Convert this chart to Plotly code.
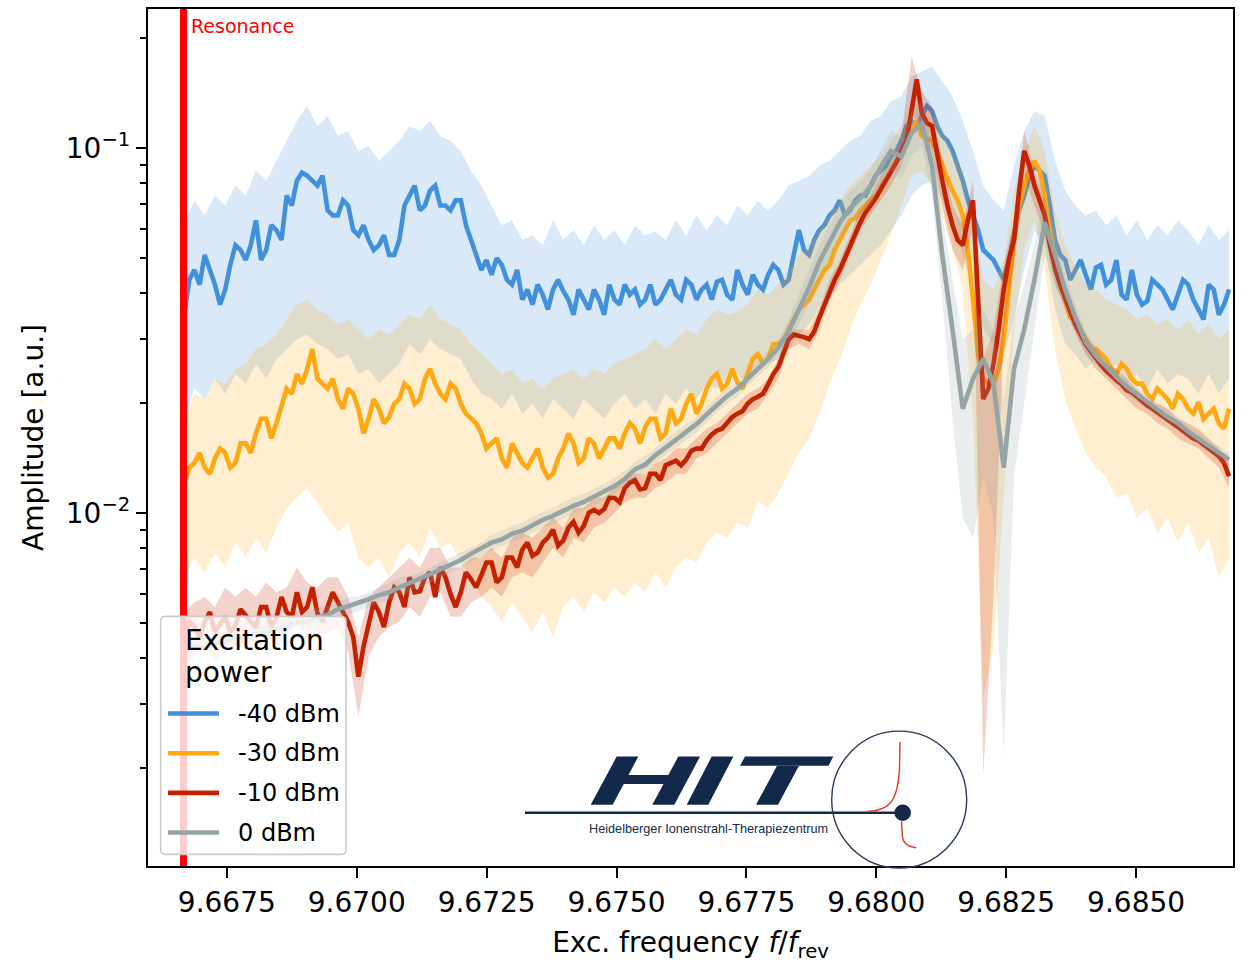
import numpy as np
import plotly.graph_objects as go

# ---------------- data ----------------
# excitation frequency grids (tune units f/f_rev)
freq = np.linspace(9.66668, 9.68679, 103)        # bands and 0 dBm trace
freq_fine = np.linspace(9.66668, 9.68679, 205)   # noisy low-power traces
RESONANCE = 29 / 3

POWER_LABELS = ["-40 dBm", "-30 dBm", "-10 dBm", "0 dBm"]

amp_m40 = [
    0.0349, 0.0435, 0.0463, 0.0422, 0.0509, 0.0463, 0.0422, 0.0372, 0.0409, 0.0478,
    0.0541, 0.0525, 0.0493, 0.0541, 0.0633, 0.0493, 0.0525, 0.0614, 0.0595, 0.0559,
    0.0740, 0.0695, 0.0813, 0.0855, 0.0839, 0.0813, 0.0788, 0.0839, 0.0674, 0.0653,
    0.0653, 0.0718, 0.0695, 0.0595, 0.0576, 0.0614, 0.0559, 0.0525, 0.0541, 0.0576,
    0.0509, 0.0509, 0.0559, 0.0695, 0.0740, 0.0788, 0.0674, 0.0695, 0.0764, 0.0788,
    0.0695, 0.0695, 0.0674, 0.0718, 0.0718, 0.0614, 0.0559, 0.0509, 0.0463, 0.0493,
    0.0449, 0.0499, 0.0478, 0.0435, 0.0422, 0.0463, 0.0384, 0.0409, 0.0372, 0.0422,
    0.0396, 0.0361, 0.0409, 0.0435, 0.0405, 0.0384, 0.0349, 0.0409, 0.0384, 0.0361,
    0.0409, 0.0384, 0.0349, 0.0422, 0.0384, 0.0372, 0.0422, 0.0396, 0.0409, 0.0372,
    0.0384, 0.0422, 0.0372, 0.0384, 0.0409, 0.0435, 0.0396, 0.0384, 0.0435, 0.0422,
    0.0384, 0.0409, 0.0422, 0.0384, 0.0430, 0.0435, 0.0396, 0.0384, 0.0463, 0.0422,
    0.0396, 0.0449, 0.0422, 0.0409, 0.0449, 0.0478, 0.0463, 0.0422, 0.0435, 0.0509,
    0.0595, 0.0525, 0.0509, 0.0559, 0.0595, 0.0614, 0.0653, 0.0674, 0.0718, 0.0653,
    0.0674, 0.0718, 0.0740, 0.0740, 0.0788, 0.0839, 0.0866, 0.0893, 0.0951, 0.0981,
    0.1045, 0.1148, 0.1184, 0.1126, 0.1222, 0.1301, 0.1261, 0.1148, 0.1078, 0.1045,
    0.0981, 0.0893, 0.0813, 0.0718, 0.0653, 0.0595, 0.0525, 0.0509, 0.0493, 0.0463,
    0.0435, 0.0493, 0.0576, 0.0674, 0.0740, 0.0839, 0.0893, 0.0866, 0.0839, 0.0695,
    0.0559, 0.0509, 0.0493, 0.0435, 0.0463, 0.0493, 0.0449, 0.0409, 0.0470, 0.0478,
    0.0422, 0.0435, 0.0493, 0.0396, 0.0384, 0.0463, 0.0396, 0.0372, 0.0380, 0.0435,
    0.0422, 0.0409, 0.0384, 0.0361, 0.0396, 0.0435, 0.0422, 0.0384, 0.0361, 0.0339,
    0.0422, 0.0409, 0.0349, 0.0372, 0.0409]
amp_m40_hi = [
    0.0614, 0.0718, 0.0653, 0.0740, 0.0695, 0.0788, 0.0740, 0.0866, 0.0813, 0.0922,
    0.1045, 0.1184, 0.1301, 0.1148, 0.1222, 0.1078, 0.1112, 0.0981, 0.1013, 0.0922,
    0.0981, 0.1045, 0.1148, 0.1112, 0.1184, 0.1078, 0.1045, 0.0981, 0.0866, 0.0788,
    0.0695, 0.0614, 0.0633, 0.0559, 0.0576, 0.0541, 0.0633, 0.0559, 0.0595, 0.0541,
    0.0614, 0.0559, 0.0595, 0.0541, 0.0614, 0.0576, 0.0590, 0.0559, 0.0633, 0.0576,
    0.0653, 0.0595, 0.0653, 0.0614, 0.0695, 0.0653, 0.0718, 0.0674, 0.0718, 0.0788,
    0.0813, 0.0839, 0.0893, 0.0922, 0.0981, 0.1045, 0.1078, 0.1184, 0.1222, 0.1342,
    0.1385, 0.1569, 0.1619, 0.1670, 0.1521, 0.1385, 0.1184, 0.0981, 0.0788, 0.0718,
    0.0674, 0.0893, 0.1112, 0.1261, 0.1222, 0.0922, 0.0764, 0.0695, 0.0653, 0.0674,
    0.0614, 0.0653, 0.0576, 0.0633, 0.0559, 0.0614, 0.0576, 0.0633, 0.0595, 0.0541,
    0.0614, 0.0559, 0.0595]
amp_m40_lo = [
    0.0181, 0.0219, 0.0205, 0.0233, 0.0212, 0.0240, 0.0226, 0.0256, 0.0233, 0.0264,
    0.0281, 0.0299, 0.0308, 0.0290, 0.0281, 0.0264, 0.0272, 0.0240, 0.0248, 0.0226,
    0.0240, 0.0256, 0.0290, 0.0272, 0.0299, 0.0281, 0.0272, 0.0264, 0.0233, 0.0212,
    0.0205, 0.0193, 0.0212, 0.0187, 0.0199, 0.0181, 0.0205, 0.0193, 0.0181, 0.0205,
    0.0193, 0.0181, 0.0199, 0.0212, 0.0193, 0.0205, 0.0187, 0.0212, 0.0199, 0.0219,
    0.0205, 0.0226, 0.0219, 0.0233, 0.0240, 0.0226, 0.0248, 0.0256, 0.0264, 0.0281,
    0.0308, 0.0328, 0.0361, 0.0384, 0.0422, 0.0449, 0.0478, 0.0509, 0.0541, 0.0595,
    0.0653, 0.0740, 0.0788, 0.0813, 0.0718, 0.0633, 0.0509, 0.0409, 0.0318, 0.0290,
    0.0272, 0.0339, 0.0463, 0.0595, 0.0541, 0.0361, 0.0290, 0.0272, 0.0248, 0.0264,
    0.0240, 0.0256, 0.0226, 0.0240, 0.0219, 0.0248, 0.0226, 0.0240, 0.0233, 0.0212,
    0.0240, 0.0212, 0.0233]

amp_m30 = [
    0.0121, 0.0133, 0.0137, 0.0146, 0.0133, 0.0128, 0.0141, 0.0150, 0.0146, 0.0133,
    0.0137, 0.0155, 0.0155, 0.0146, 0.0165, 0.0181, 0.0181, 0.0160, 0.0176, 0.0199,
    0.0219, 0.0212, 0.0240, 0.0226, 0.0248, 0.0281, 0.0233, 0.0226, 0.0219, 0.0233,
    0.0205, 0.0193, 0.0219, 0.0212, 0.0193, 0.0165, 0.0181, 0.0205, 0.0193, 0.0176,
    0.0183, 0.0199, 0.0205, 0.0226, 0.0219, 0.0199, 0.0205, 0.0233, 0.0248, 0.0226,
    0.0212, 0.0205, 0.0226, 0.0219, 0.0199, 0.0187, 0.0181, 0.0176, 0.0165, 0.0150,
    0.0155, 0.0160, 0.0141, 0.0133, 0.0155, 0.0146, 0.0137, 0.0133, 0.0141, 0.0150,
    0.0133, 0.0125, 0.0128, 0.0141, 0.0150, 0.0165, 0.0155, 0.0137, 0.0141, 0.0160,
    0.0155, 0.0141, 0.0150, 0.0160, 0.0160, 0.0150, 0.0165, 0.0176, 0.0170, 0.0155,
    0.0172, 0.0181, 0.0181, 0.0160, 0.0165, 0.0193, 0.0176, 0.0181, 0.0199, 0.0212,
    0.0187, 0.0199, 0.0219, 0.0233, 0.0240, 0.0219, 0.0226, 0.0248, 0.0228, 0.0219,
    0.0240, 0.0264, 0.0272, 0.0256, 0.0264, 0.0290, 0.0290, 0.0299, 0.0318, 0.0339,
    0.0361, 0.0372, 0.0384, 0.0409, 0.0435, 0.0463, 0.0478, 0.0525, 0.0559, 0.0595,
    0.0633, 0.0641, 0.0674, 0.0695, 0.0718, 0.0740, 0.0764, 0.0813, 0.0866, 0.0922,
    0.0951, 0.1045, 0.1112, 0.1184, 0.1078, 0.1058, 0.1045, 0.0981, 0.0893, 0.0823,
    0.0764, 0.0718, 0.0653, 0.0525, 0.0384, 0.0272, 0.0233, 0.0226, 0.0226, 0.0248,
    0.0299, 0.0409, 0.0559, 0.0695, 0.0788, 0.0866, 0.0922, 0.0866, 0.0740, 0.0595,
    0.0493, 0.0422, 0.0384, 0.0343, 0.0339, 0.0318, 0.0299, 0.0281, 0.0281, 0.0272,
    0.0264, 0.0248, 0.0240, 0.0256, 0.0248, 0.0233, 0.0226, 0.0226, 0.0212, 0.0205,
    0.0219, 0.0212, 0.0205, 0.0193, 0.0212, 0.0205, 0.0193, 0.0187, 0.0201, 0.0181,
    0.0187, 0.0193, 0.0176, 0.0170, 0.0193]
amp_m30_hi = [
    0.0181, 0.0212, 0.0205, 0.0233, 0.0226, 0.0248, 0.0256, 0.0281, 0.0290, 0.0308,
    0.0339, 0.0372, 0.0384, 0.0361, 0.0349, 0.0328, 0.0339, 0.0318, 0.0299, 0.0318,
    0.0308, 0.0328, 0.0349, 0.0339, 0.0372, 0.0339, 0.0328, 0.0318, 0.0290, 0.0272,
    0.0256, 0.0240, 0.0248, 0.0226, 0.0233, 0.0219, 0.0233, 0.0240, 0.0248, 0.0233,
    0.0248, 0.0240, 0.0256, 0.0264, 0.0272, 0.0281, 0.0299, 0.0281, 0.0299, 0.0318,
    0.0308, 0.0339, 0.0361, 0.0349, 0.0355, 0.0372, 0.0409, 0.0396, 0.0422, 0.0463,
    0.0509, 0.0541, 0.0595, 0.0653, 0.0718, 0.0788, 0.0839, 0.0893, 0.0951, 0.1045,
    0.1148, 0.1342, 0.1301, 0.1261, 0.1112, 0.0981, 0.0866, 0.0595, 0.0435, 0.0409,
    0.0493, 0.0764, 0.0981, 0.1148, 0.0981, 0.0674, 0.0541, 0.0478, 0.0422, 0.0409,
    0.0384, 0.0372, 0.0361, 0.0339, 0.0349, 0.0328, 0.0339, 0.0318, 0.0339, 0.0308,
    0.0328, 0.0299, 0.0318]
amp_m30_lo = [
    0.00666, 0.00754, 0.00687, 0.00778, 0.00709, 0.00829, 0.00754, 0.00855, 0.00778, 0.00910,
    0.0103, 0.0110, 0.0117, 0.0107, 0.00969, 0.00882, 0.00939, 0.00754, 0.00709, 0.00754,
    0.00666, 0.00778, 0.00829, 0.00754, 0.00910, 0.00803, 0.00829, 0.00731, 0.00666, 0.00588,
    0.00552, 0.00503, 0.00569, 0.00519, 0.00472, 0.00535, 0.00457, 0.00552, 0.00588, 0.00535,
    0.00606, 0.00569, 0.00625, 0.00588, 0.00645, 0.00606, 0.00687, 0.00625, 0.00709, 0.00754,
    0.00731, 0.00829, 0.00882, 0.00855, 0.00939, 0.00910, 0.0107, 0.0103, 0.0113, 0.0128,
    0.0146, 0.0160, 0.0187, 0.0226, 0.0264, 0.0318, 0.0372, 0.0422, 0.0493, 0.0576,
    0.0695, 0.0839, 0.0866, 0.0788, 0.0653, 0.0525, 0.0409, 0.0181, 0.00314, 0.00430,
    0.0110, 0.0318, 0.0525, 0.0633, 0.0463, 0.0281, 0.0205, 0.0170, 0.0146, 0.0133,
    0.0125, 0.0110, 0.0113, 0.00969, 0.0103, 0.00882, 0.00969, 0.00829, 0.00939, 0.00778,
    0.00855, 0.00666, 0.00754]

amp_m10 = [
    0.00457, 0.00503, 0.00487, 0.00457, 0.00503, 0.00535, 0.00472, 0.00493, 0.00519, 0.00472,
    0.00490, 0.00545, 0.00525, 0.00503, 0.00484, 0.00552, 0.00552, 0.00487, 0.00516, 0.00588,
    0.00535, 0.00519, 0.00606, 0.00535, 0.00552, 0.00625, 0.00532, 0.00503, 0.00555, 0.00606,
    0.00569, 0.00535, 0.00503, 0.00457, 0.00356, 0.00430, 0.00490, 0.00569, 0.00535, 0.00487,
    0.00569, 0.00625, 0.00606, 0.00552, 0.00666, 0.00606, 0.00610, 0.00666, 0.00687, 0.00588,
    0.00709, 0.00666, 0.00599, 0.00552, 0.00606, 0.00687, 0.00658, 0.00625, 0.00674, 0.00731,
    0.00731, 0.00645, 0.00666, 0.00754, 0.00754, 0.00709, 0.00793, 0.00829, 0.00763, 0.00778,
    0.00829, 0.00855, 0.00899, 0.00813, 0.00840, 0.00910, 0.00945, 0.00882, 0.00921, 0.0100,
    0.01019, 0.0100, 0.01025, 0.0110, 0.01099, 0.0107, 0.01169, 0.0121, 0.0123, 0.0116,
    0.0117, 0.0128, 0.0128, 0.0123, 0.0135, 0.0137, 0.0139, 0.0135, 0.0140, 0.0148,
    0.0150, 0.0150, 0.0158, 0.0164, 0.0168, 0.0170, 0.0177, 0.0183, 0.0187, 0.0190,
    0.0199, 0.0205, 0.0208, 0.0212, 0.0225, 0.0240, 0.0251, 0.0277, 0.0299, 0.0308,
    0.0306, 0.0303, 0.0299, 0.0314, 0.0343, 0.0372, 0.0404, 0.0435, 0.0463, 0.0499,
    0.0541, 0.0587, 0.0625, 0.0665, 0.0695, 0.0727, 0.0773, 0.0813, 0.0855, 0.0910,
    0.0981, 0.1045, 0.1261, 0.1540, 0.1245, 0.1169, 0.1148, 0.0951, 0.0813, 0.0695,
    0.0614, 0.0559, 0.0541, 0.0633, 0.0718, 0.0384, 0.0205, 0.0219, 0.0256, 0.0318,
    0.0409, 0.0493, 0.0559, 0.0764, 0.0981, 0.0893, 0.0788, 0.0718, 0.0653, 0.0541,
    0.0469, 0.0422, 0.0384, 0.0356, 0.0328, 0.0308, 0.0290, 0.0277, 0.0264, 0.0254,
    0.0245, 0.0237, 0.0231, 0.0225, 0.0217, 0.0214, 0.0208, 0.0202, 0.0197, 0.0193,
    0.0189, 0.0185, 0.0180, 0.0176, 0.0172, 0.0168, 0.0163, 0.0160, 0.0158, 0.0154,
    0.0150, 0.0146, 0.0143, 0.0137, 0.0126]
amp_m10_hi = [
    0.00535, 0.00569, 0.00588, 0.00552, 0.00625, 0.00588, 0.00625, 0.00588, 0.00645, 0.00606,
    0.00625, 0.00709, 0.00645, 0.00625, 0.00666, 0.00666, 0.00588, 0.00457, 0.00588, 0.00625,
    0.00666, 0.00709, 0.00754, 0.00709, 0.00803, 0.00803, 0.00709, 0.00709, 0.00754, 0.00754,
    0.00803, 0.00754, 0.00855, 0.00882, 0.00855, 0.00910, 0.00969, 0.00910, 0.0103, 0.0103,
    0.0110, 0.0110, 0.0117, 0.0125, 0.0128, 0.0128, 0.0137, 0.0141, 0.0150, 0.0150,
    0.0160, 0.0170, 0.0176, 0.0187, 0.0199, 0.0212, 0.0219, 0.0233, 0.0264, 0.0318,
    0.0318, 0.0318, 0.0361, 0.0435, 0.0493, 0.0576, 0.0674, 0.0740, 0.0839, 0.0922,
    0.1078, 0.1778, 0.1429, 0.1301, 0.0922, 0.0695, 0.0614, 0.0813, 0.0264, 0.0318,
    0.0478, 0.0633, 0.1112, 0.0866, 0.0718, 0.0509, 0.0409, 0.0349, 0.0308, 0.0281,
    0.0256, 0.0248, 0.0233, 0.0219, 0.0205, 0.0199, 0.0193, 0.0181, 0.0176, 0.0170,
    0.0160, 0.0150, 0.0137]
amp_m10_lo = [
    0.00391, 0.00404, 0.00430, 0.00391, 0.00430, 0.00416, 0.00443, 0.00404, 0.00457, 0.00430,
    0.00457, 0.00503, 0.00457, 0.00443, 0.00472, 0.00487, 0.00416, 0.00277, 0.00404, 0.00457,
    0.00487, 0.00503, 0.00552, 0.00519, 0.00588, 0.00606, 0.00519, 0.00519, 0.00569, 0.00588,
    0.00625, 0.00588, 0.00666, 0.00687, 0.00666, 0.00731, 0.00803, 0.00754, 0.00855, 0.00829,
    0.00910, 0.00939, 0.0100, 0.0107, 0.0110, 0.0110, 0.0117, 0.0121, 0.0128, 0.0128,
    0.0141, 0.0146, 0.0155, 0.0165, 0.0176, 0.0187, 0.0193, 0.0212, 0.0233, 0.0281,
    0.0290, 0.0281, 0.0318, 0.0384, 0.0435, 0.0509, 0.0595, 0.0653, 0.0718, 0.0788,
    0.0893, 0.1261, 0.1078, 0.0981, 0.0695, 0.0525, 0.0463, 0.0614, 0.00191, 0.00588,
    0.0318, 0.0478, 0.0839, 0.0695, 0.0576, 0.0422, 0.0361, 0.0308, 0.0272, 0.0248,
    0.0233, 0.0219, 0.0205, 0.0193, 0.0187, 0.0176, 0.0170, 0.0160, 0.0155, 0.0150,
    0.0141, 0.0133, 0.0117]

amp_0 = [
    0.00416, 0.00430, 0.00425, 0.00441, 0.00443, 0.00454, 0.00457, 0.00469, 0.00466, 0.00481,
    0.00487, 0.00500, 0.00503, 0.00519, 0.00525, 0.00545, 0.00555, 0.00566, 0.00580, 0.00595,
    0.00606, 0.00625, 0.00641, 0.00658, 0.00679, 0.00700, 0.00722, 0.00743, 0.00773, 0.00798,
    0.00829, 0.00846, 0.00877, 0.00893, 0.00927, 0.00957, 0.00981, 0.01013, 0.01045, 0.01071,
    0.01105, 0.01140, 0.01184, 0.01238, 0.01316, 0.01355, 0.0144, 0.0151, 0.0159, 0.0166,
    0.0175, 0.0186, 0.0198, 0.0209, 0.0219, 0.0234, 0.0248, 0.0264, 0.0283, 0.0314,
    0.0361, 0.0414, 0.0487, 0.0552, 0.0625, 0.0683, 0.0727, 0.0784, 0.0888, 0.0981,
    0.0945, 0.1098, 0.1169, 0.0893, 0.0509, 0.0318, 0.0193, 0.0233, 0.0264, 0.0226,
    0.0133, 0.0248, 0.0318, 0.0435, 0.0625, 0.0509, 0.0409, 0.0343, 0.0294, 0.0269,
    0.0251, 0.0236, 0.0222, 0.0211, 0.0201, 0.0192, 0.0183, 0.0176, 0.0167, 0.0160,
    0.0152, 0.0146, 0.0140]
amp_0_hi = [
    0.00443, 0.00457, 0.00440, 0.00455, 0.00472, 0.00470, 0.00487, 0.00484, 0.00490, 0.00503,
    0.00516, 0.00519, 0.00532, 0.00552, 0.00555, 0.00569, 0.00588, 0.00590, 0.00606, 0.00625,
    0.00645, 0.00666, 0.00670, 0.00687, 0.00709, 0.00731, 0.00754, 0.00778, 0.00803, 0.00829,
    0.00871, 0.00893, 0.00921, 0.00939, 0.00975, 0.01006, 0.0103, 0.0107, 0.0110, 0.0113,
    0.0116, 0.0120, 0.0125, 0.0130, 0.0138, 0.0143, 0.0151, 0.0159, 0.0167, 0.0175,
    0.0183, 0.0196, 0.0208, 0.0220, 0.0228, 0.0247, 0.0261, 0.0277, 0.0297, 0.0339,
    0.0396, 0.0463, 0.0541, 0.0614, 0.0695, 0.0764, 0.0813, 0.0876, 0.0992, 0.1112,
    0.1078, 0.1261, 0.1342, 0.1045, 0.0653, 0.0435, 0.0299, 0.0318, 0.0361, 0.0318,
    0.0205, 0.0339, 0.0422, 0.0541, 0.0740, 0.0595, 0.0449, 0.0372, 0.0312, 0.0285,
    0.0264, 0.0248, 0.0233, 0.0220, 0.0210, 0.0200, 0.0192, 0.0183, 0.0174, 0.0167,
    0.0159, 0.0152, 0.0146]
amp_0_lo = [
    0.00396, 0.00409, 0.00404, 0.00419, 0.00421, 0.00432, 0.00435, 0.00445, 0.00443, 0.00457,
    0.00463, 0.00475, 0.00478, 0.00493, 0.00500, 0.00519, 0.00528, 0.00538, 0.00552, 0.00566,
    0.00577, 0.00595, 0.00610, 0.00625, 0.00645, 0.00666, 0.00687, 0.00709, 0.00735, 0.00758,
    0.00788, 0.00808, 0.00834, 0.00850, 0.00882, 0.00910, 0.00933, 0.00963, 0.00994, 0.0102,
    0.0105, 0.0109, 0.0113, 0.0118, 0.0125, 0.0129, 0.0137, 0.0144, 0.0151, 0.0158,
    0.0166, 0.0177, 0.0188, 0.0199, 0.0208, 0.0223, 0.0236, 0.0251, 0.0269, 0.0290,
    0.0328, 0.0372, 0.0435, 0.0493, 0.0559, 0.0614, 0.0653, 0.0695, 0.0788, 0.0866,
    0.0823, 0.0951, 0.1013, 0.0740, 0.0384, 0.0181, 0.00969, 0.00855, 0.0125, 0.00969,
    0.00216, 0.0125, 0.0205, 0.0318, 0.0509, 0.0422, 0.0365, 0.0314, 0.0272, 0.0253,
    0.0238, 0.0224, 0.0210, 0.0201, 0.0193, 0.0183, 0.0176, 0.0168, 0.0160, 0.0153,
    0.0146, 0.0140, 0.0133]

# ---------------- styling ----------------
FONT = "DejaVu Sans"
COLORS = ["#4190dc", "#ffa812", "#c42100", "#95a5a6"]
BANDS = ["rgba(65,144,220,0.2)", "rgba(255,168,18,0.2)",
         "rgba(196,33,0,0.2)", "rgba(149,165,166,0.2)"]
NAVY = "#13294b"
LINE_W = 4.6

series = [
    (freq_fine, amp_m40, amp_m40_lo, amp_m40_hi),
    (freq_fine, amp_m30, amp_m30_lo, amp_m30_hi),
    (freq_fine, amp_m10, amp_m10_lo, amp_m10_hi),
    (freq, amp_0, amp_0_lo, amp_0_hi),
]

fig = go.Figure()
xb = list(freq)
for (fx_line, mean, lo, hi), label, col, band in zip(series, POWER_LABELS, COLORS, BANDS):
    fig.add_trace(go.Scatter(
        x=xb + xb[::-1], y=list(hi) + list(lo)[::-1],
        mode="lines", fill="toself", fillcolor=band,
        line=dict(width=0), hoverinfo="skip", showlegend=False))
    fig.add_trace(go.Scatter(
        x=fx_line, y=mean, mode="lines", name=label,
        line=dict(color=col, width=LINE_W), showlegend=False))

# ---------------- frame geometry (pixels) ----------------
W, H = 1248, 963
PL, PR, PT, PB = 148, 1233, 7, 871


def fx(p):
    return (p - PL) / (PR - PL)


def fy(p):
    return (PB - p) / (PB - PT)


def pt(x, y):
    return f"{fx(x):.5f},{fy(y):.5f}"


def poly(points):
    return "M " + " L ".join(pt(x, y) for x, y in points) + " Z"


shapes = []

# resonance marker
shapes.append(dict(type="line", xref="x", yref="paper", x0=RESONANCE, x1=RESONANCE,
                   y0=0, y1=1, line=dict(color="#ff0000", width=7), layer="above"))

# legend frame
lx0, lx1, ly0, ly1, r = 160.7, 346.0, 619.3, 859.3, 5
legend_path = (f"M {pt(lx0 + r, ly0)} L {pt(lx1 - r, ly0)} Q {pt(lx1, ly0)} {pt(lx1, ly0 + r)} "
               f"L {pt(lx1, ly1 - r)} Q {pt(lx1, ly1)} {pt(lx1 - r, ly1)} "
               f"L {pt(lx0 + r, ly1)} Q {pt(lx0, ly1)} {pt(lx0, ly1 - r)} "
               f"L {pt(lx0, ly0 + r)} Q {pt(lx0, ly0)} {pt(lx0 + r, ly0)} Z")
shapes.append(dict(type="path", xref="paper", yref="paper", path=legend_path,
                   fillcolor="rgba(255,255,255,0.8)", line=dict(color="#cccccc", width=1.6),
                   layer="above"))
legend_rows = [717.3, 757.3, 797.3, 837.3]
for yrow, col in zip(legend_rows, COLORS):
    shapes.append(dict(type="line", xref="paper", yref="paper",
                       x0=fx(168), x1=fx(219), y0=fy(yrow), y1=fy(yrow),
                       line=dict(color=col, width=LINE_W), layer="above"))

# HIT logo
letters = [
    [(590.7, 809.3), (612.7, 809.3), (638.3, 760.7), (616.7, 760.7)],
    [(652.3, 809.3), (674.3, 809.3), (700.0, 760.7), (678.3, 760.7)],
    [(621.0, 788.3), (669.0, 788.3), (673.5, 779.3), (625.5, 779.3)],
    [(686.7, 809.3), (708.3, 809.3), (733.3, 760.7), (711.7, 760.7)],
    [(740.0, 770.0), (828.5, 770.0), (833.3, 760.7), (745.0, 760.7)],
    [(756.0, 809.3), (778.0, 809.3), (799.0, 770.0), (777.0, 770.0)],
]
for p in letters:
    shapes.append(dict(type="path", xref="paper", yref="paper", path=poly(p),
                       fillcolor=NAVY, line=dict(width=0), layer="above"))
shapes.append(dict(type="line", xref="paper", yref="paper",
                   x0=fx(525), x1=fx(896), y0=fy(817.3), y1=fy(817.3),
                   line=dict(color=NAVY, width=2.5), layer="above"))
shapes.append(dict(type="circle", xref="paper", yref="paper",
                   x0=fx(831.7), x1=fx(966.7), y0=fy(873), y1=fy(735),
                   line=dict(color="#2a3b58", width=1.4), layer="above"))
bragg_up = f"M {pt(866.7, 816)} C {pt(888, 815)} {pt(898, 808)} {pt(899.5, 772)} L {pt(900, 746)}"
bragg_dn = f"M {pt(901.5, 826)} L {pt(902.3, 840)} C {pt(902.8, 848)} {pt(907, 851)} {pt(916, 852.7)}"
for pth in (bragg_up, bragg_dn):
    shapes.append(dict(type="path", xref="paper", yref="paper", path=pth,
                       line=dict(color="#e2412d", width=1.5), layer="above"))
shapes.append(dict(type="circle", xref="paper", yref="paper",
                   x0=fx(894.4), x1=fx(911.0), y0=fy(825.6), y1=fy(809.0),
                   fillcolor=NAVY, line=dict(width=0), layer="above"))

# ---------------- annotations ----------------
annotations = [
    dict(x=RESONANCE, xref="x", xshift=5, y=fy(24), yref="paper",
         text="Resonance", showarrow=False, xanchor="left", yanchor="middle",
         font=dict(family=FONT, size=19, color="#ff0000")),
    dict(x=fx(183.3), y=fy(644), xref="paper", yref="paper", text="Excitation",
         showarrow=False, xanchor="left", yanchor="middle",
         font=dict(family=FONT, size=28, color="black")),
    dict(x=fx(183.3), y=fy(676), xref="paper", yref="paper", text="power",
         showarrow=False, xanchor="left", yanchor="middle",
         font=dict(family=FONT, size=28, color="black")),
    dict(x=fx(708.5), y=fy(833.5), xref="paper", yref="paper",
         text="Heidelberger Ionenstrahl-Therapiezentrum", showarrow=False,
         xanchor="center", yanchor="middle",
         font=dict(family="Liberation Sans Narrow, Liberation Sans, sans-serif",
                   size=12.7, color=NAVY)),
]
for yrow, label in zip(legend_rows, POWER_LABELS):
    annotations.append(dict(x=fx(235.5), y=fy(yrow), xref="paper", yref="paper",
                            text=label, showarrow=False, xanchor="left",
                            yanchor="middle",
                            font=dict(family=FONT, size=24, color="black")))

minor_vals = [k * 10.0 ** e for e in (-3, -2) for k in range(2, 10)] + [0.2]

fig.update_layout(
    width=W, height=H,
    margin=dict(l=PL, r=W - PR, t=PT, b=H - PB, pad=0),
    paper_bgcolor="white", plot_bgcolor="white",
    font=dict(family=FONT, size=28, color="black"),
    showlegend=False,
    shapes=shapes,
    annotations=annotations,
    xaxis=dict(
        range=[9.665983, 9.686865],
        tickmode="linear", tick0=9.6675, dtick=0.0025, tickformat=".4f",
        ticks="outside", ticklen=10, tickwidth=2.2, tickcolor="black",
        showline=True, linewidth=2.2, linecolor="black", mirror=True,
        showgrid=False, zeroline=False,
        tickfont=dict(family=FONT, size=28, color="black"),
        title=dict(text="Exc. frequency <i>f</i>/<i>f</i><sub>rev</sub>",
                   font=dict(family=FONT, size=28, color="black"), standoff=18),
    ),
    yaxis=dict(
        type="log", range=[-2.9674, -0.6196],
        tickmode="array", tickvals=[0.01, 0.1],
        ticktext=["10<sup>\u22122</sup>", "10<sup>\u22121</sup>"],
        ticks="outside", ticklen=10, tickwidth=2.2, tickcolor="black",
        showline=True, linewidth=2.2, linecolor="black", mirror=True,
        showgrid=False, zeroline=False,
        tickfont=dict(family=FONT, size=28, color="black"),
        minor=dict(tickmode="array", tickvals=minor_vals, ticks="outside",
                   ticklen=5.6, tickwidth=1.6, tickcolor="black", showgrid=False),
        title=dict(text="Amplitude [a.u.]",
                   font=dict(family=FONT, size=28, color="black"), standoff=14),
    ),
)

fig.write_html("out.html")
